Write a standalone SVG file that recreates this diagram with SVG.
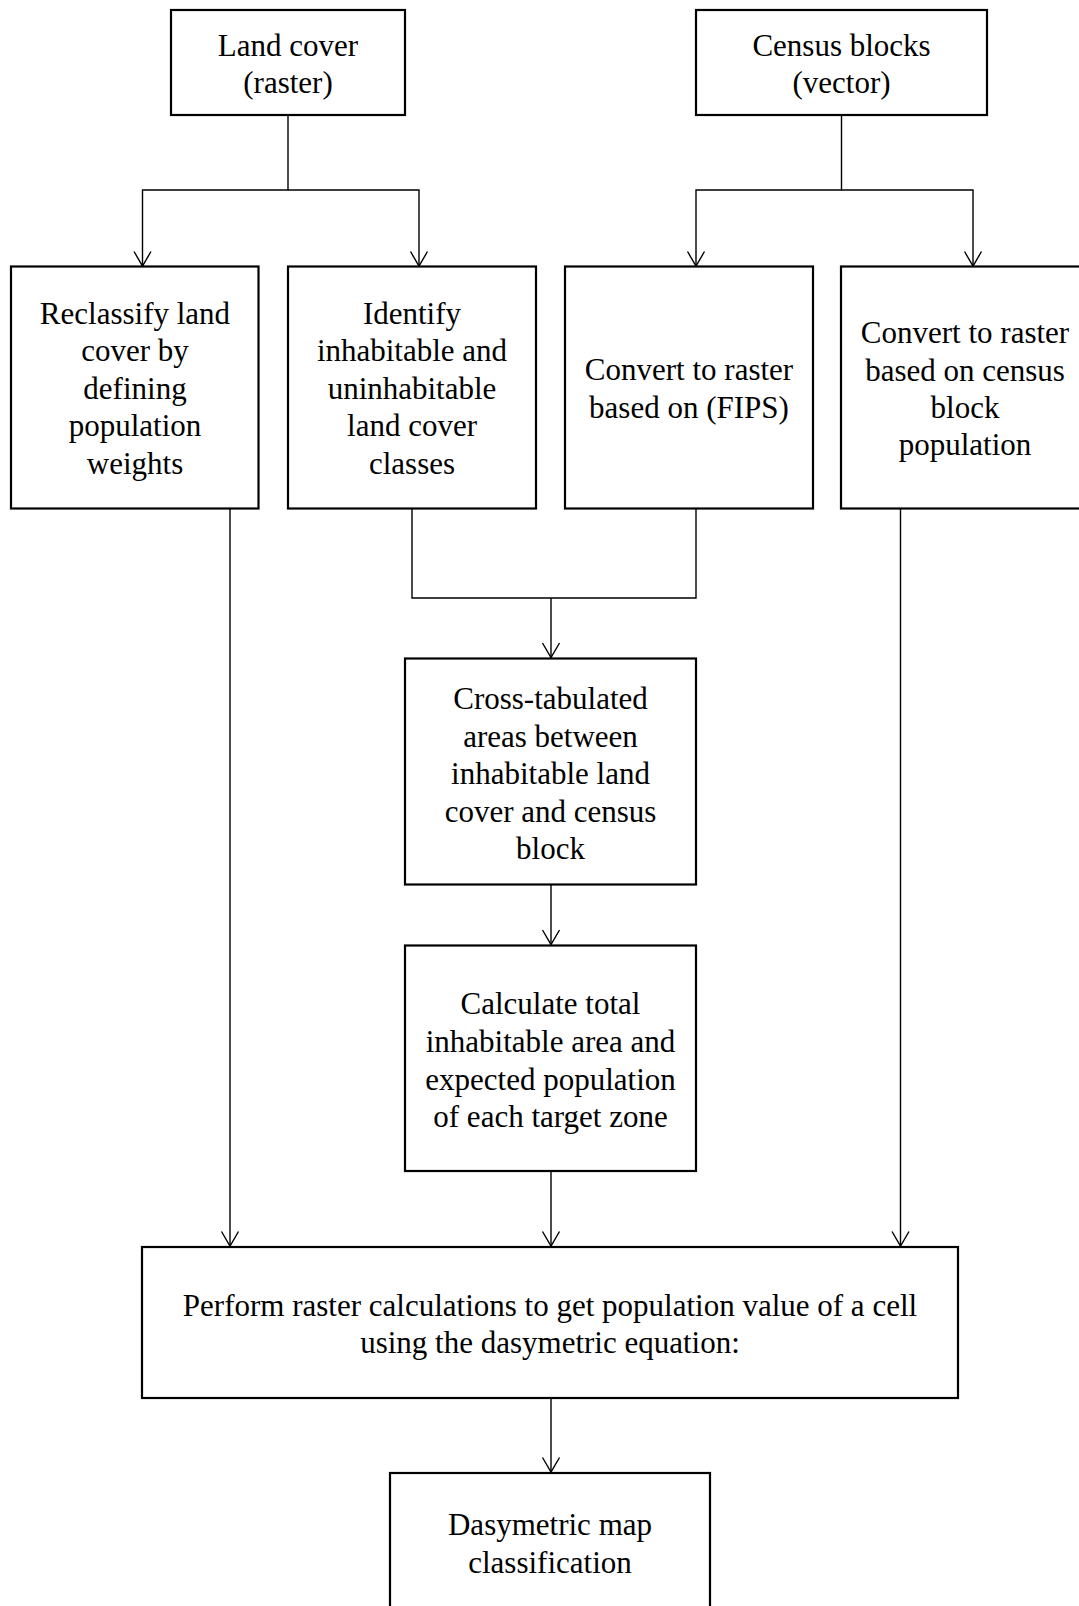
<svg xmlns="http://www.w3.org/2000/svg" width="1079" height="1606" viewBox="0 0 1079 1606">
<style>
.box{fill:#fff;stroke:#000;stroke-width:2.2}
.lbl{font-family:"Liberation Serif","Times New Roman",serif;font-size:31px;fill:#000;text-anchor:middle}
.con{fill:none;stroke:#000;stroke-width:1.4}
</style>
<defs>
<marker id="arr" markerUnits="userSpaceOnUse" markerWidth="20" markerHeight="20" viewBox="-16 -10 18 20" refX="0" refY="0" orient="auto">
<path d="M-14.5,-8.5 L0,0 L-14.5,8.5" fill="none" stroke="#000" stroke-width="1.4"/>
</marker>
</defs>
<rect width="1079" height="1606" fill="#fff"/>
<g id="connectors">
<path class="con" d="M288 115 V190 H142.5 V266" marker-end="url(#arr)"/>
<path class="con" d="M288 190 H419 V266" marker-end="url(#arr)"/>
<path class="con" d="M841.5 115 V190 H696 V266" marker-end="url(#arr)"/>
<path class="con" d="M841.5 190 H973 V266" marker-end="url(#arr)"/>
<path class="con" d="M412 508.5 V598 H696 V508.5"/>
<path class="con" d="M551 598 V657.5" marker-end="url(#arr)"/>
<path class="con" d="M551 884.5 V944.5" marker-end="url(#arr)"/>
<path class="con" d="M551 1171 V1246" marker-end="url(#arr)"/>
<path class="con" d="M230 508.5 V1246" marker-end="url(#arr)"/>
<path class="con" d="M900.5 508.5 V1246" marker-end="url(#arr)"/>
<path class="con" d="M551 1398 V1472" marker-end="url(#arr)"/>
</g>
<g id="n-landcover">
<rect class="box" x="171" y="10" width="234" height="105"/>
<text class="lbl" x="288" y="56">Land cover</text>
<text class="lbl" x="288" y="93">(raster)</text>
</g>
<g id="n-census">
<rect class="box" x="696" y="10" width="291" height="105"/>
<text class="lbl" x="841.5" y="56">Census blocks</text>
<text class="lbl" x="841.5" y="93">(vector)</text>
</g>
<g id="n-reclassify">
<rect class="box" x="11" y="266.5" width="247.5" height="242"/>
<text class="lbl" x="135" y="323.5">Reclassify land</text>
<text class="lbl" x="135" y="361">cover by</text>
<text class="lbl" x="135" y="398.5">defining</text>
<text class="lbl" x="135" y="436">population</text>
<text class="lbl" x="135" y="473.5">weights</text>
</g>
<g id="n-identify">
<rect class="box" x="288" y="266.5" width="248" height="242"/>
<text class="lbl" x="412" y="323.5">Identify</text>
<text class="lbl" x="412" y="361">inhabitable and</text>
<text class="lbl" x="412" y="398.5">uninhabitable</text>
<text class="lbl" x="412" y="436">land cover</text>
<text class="lbl" x="412" y="473.5">classes</text>
</g>
<g id="n-fips">
<rect class="box" x="565" y="266.5" width="248" height="242"/>
<text class="lbl" x="689" y="380">Convert to raster</text>
<text class="lbl" x="689" y="417.5">based on (FIPS)</text>
</g>
<g id="n-pop">
<rect class="box" x="841" y="266.5" width="248" height="242"/>
<text class="lbl" x="965" y="343">Convert to raster</text>
<text class="lbl" x="965" y="380.5">based on census</text>
<text class="lbl" x="965" y="417.5">block</text>
<text class="lbl" x="965" y="455">population</text>
</g>
<g id="n-crosstab">
<rect class="box" x="405" y="658.5" width="291" height="226"/>
<text class="lbl" x="550.5" y="709">Cross-tabulated</text>
<text class="lbl" x="550.5" y="746.5">areas between</text>
<text class="lbl" x="550.5" y="784">inhabitable land</text>
<text class="lbl" x="550.5" y="821.5">cover and census</text>
<text class="lbl" x="550.5" y="859">block</text>
</g>
<g id="n-calc">
<rect class="box" x="405" y="945.5" width="291" height="225.5"/>
<text class="lbl" x="550.5" y="1014">Calculate total</text>
<text class="lbl" x="550.5" y="1052">inhabitable area and</text>
<text class="lbl" x="550.5" y="1089.5">expected population</text>
<text class="lbl" x="550.5" y="1127">of each target zone</text>
</g>
<g id="n-raster">
<rect class="box" x="142" y="1247" width="816" height="151"/>
<text class="lbl" x="550" y="1316">Perform raster calculations to get population value of a cell</text>
<text class="lbl" x="550" y="1353">using the dasymetric equation:</text>
</g>
<g id="n-map">
<rect class="box" x="390" y="1473" width="320" height="160"/>
<text class="lbl" x="550" y="1535">Dasymetric map</text>
<text class="lbl" x="550" y="1573">classification</text>
</g>
</svg>
